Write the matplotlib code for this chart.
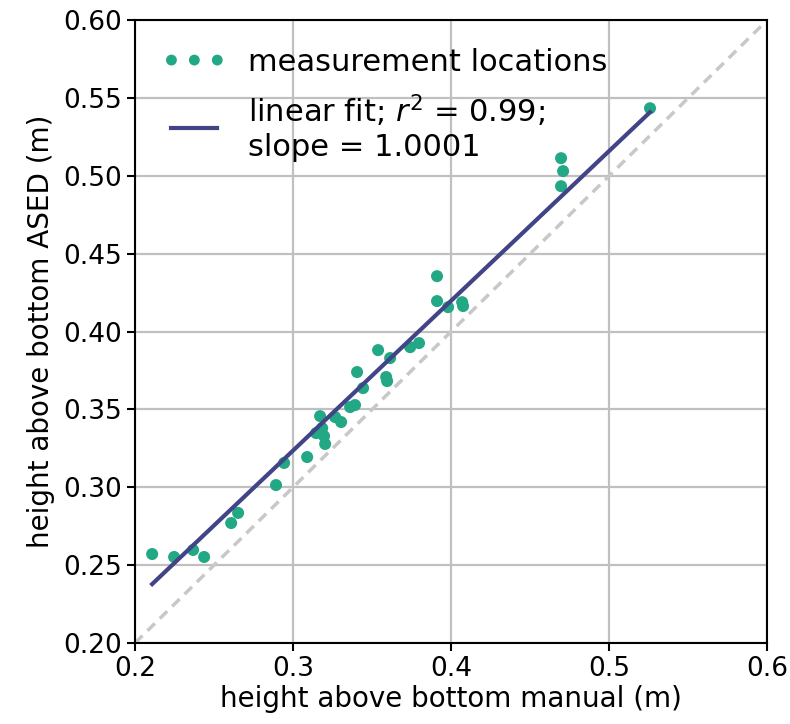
import numpy as np
import matplotlib
matplotlib.use("Agg")
import matplotlib.pyplot as plt
from matplotlib.collections import PathCollection
from matplotlib.legend_handler import HandlerPathCollection

manual = [0.2108, 0.2247, 0.2367, 0.2437, 0.2608, 0.2652, 0.2892, 0.2943, 0.3089,
          0.3146, 0.3171, 0.3184, 0.3196, 0.3203, 0.3266, 0.3304, 0.3361, 0.3392,
          0.3405, 0.3443, 0.3538, 0.3614, 0.3589, 0.3595, 0.3741, 0.3797, 0.3911,
          0.3911, 0.3981, 0.4070, 0.4076, 0.4696, 0.4709, 0.4696, 0.5259]
ased = [0.2571, 0.2552, 0.2597, 0.2552, 0.2770, 0.2835, 0.3014, 0.3156, 0.3194,
        0.3348, 0.3457, 0.3380, 0.3329, 0.3278, 0.3451, 0.3419, 0.3515, 0.3528,
        0.3740, 0.3637, 0.3881, 0.3830, 0.3708, 0.3682, 0.3900, 0.3926, 0.4356,
        0.4196, 0.4157, 0.4189, 0.4164, 0.5114, 0.5031, 0.4934, 0.5435]

# linear fit as drawn in the reference
fit_slope = 0.962
fit_intercept = 0.035

x_ticks = [0.2, 0.3, 0.4, 0.5, 0.6]
y_ticks = [0.20, 0.25, 0.30, 0.35, 0.40, 0.45, 0.50, 0.55, 0.60]

fig = plt.figure(figsize=(7.9, 7.24), dpi=100)
ax = fig.add_axes([0.171, 0.112, 0.8, 0.86])

mx = np.array(manual)
my = np.array(ased)
xf = np.array([mx.min(), mx.max()])

ax.plot([0.2, 0.6], [0.2, 0.6], ls=(0, (3, 2)), color='#c8c8c8', lw=2.5, zorder=1)
ax.scatter(mx, my, s=75, color='#22a884', edgecolors='none', zorder=3,
           label='measurement locations')
ax.plot(xf, fit_slope * xf + fit_intercept, color='#414487', lw=3, zorder=4,
        label='linear fit; $r^2$ = 0.99;\nslope = 1.0001')

ax.set_xlim(0.2, 0.6)
ax.set_ylim(0.2, 0.6)
ax.set_xticks(x_ticks)
ax.set_xticklabels([f"{t:.1f}" for t in x_ticks])
ax.set_yticks(y_ticks)
ax.set_yticklabels([f"{t:.2f}" for t in y_ticks])
ax.tick_params(labelsize=19, width=1.5, length=6)
for s in ax.spines.values():
    s.set_linewidth(1.5)
ax.grid(True, color='#c0c0c0', lw=1.6, zorder=0)
ax.set_axisbelow(True)
ax.set_xlabel('height above bottom manual (m)', fontsize=20, labelpad=2)
ax.set_ylabel('height above bottom ASED (m)', fontsize=20, labelpad=6)
ax.legend(loc='upper left', bbox_to_anchor=(0.014, 1.0), frameon=False,
          scatterpoints=3, scatteryoffsets=[0.5],
          fontsize=22, handlelength=1.5, handletextpad=1.0, markerscale=0.9,
          handler_map={PathCollection: HandlerPathCollection(marker_pad=0.0)})

fig.savefig('out.png', dpi=100)
